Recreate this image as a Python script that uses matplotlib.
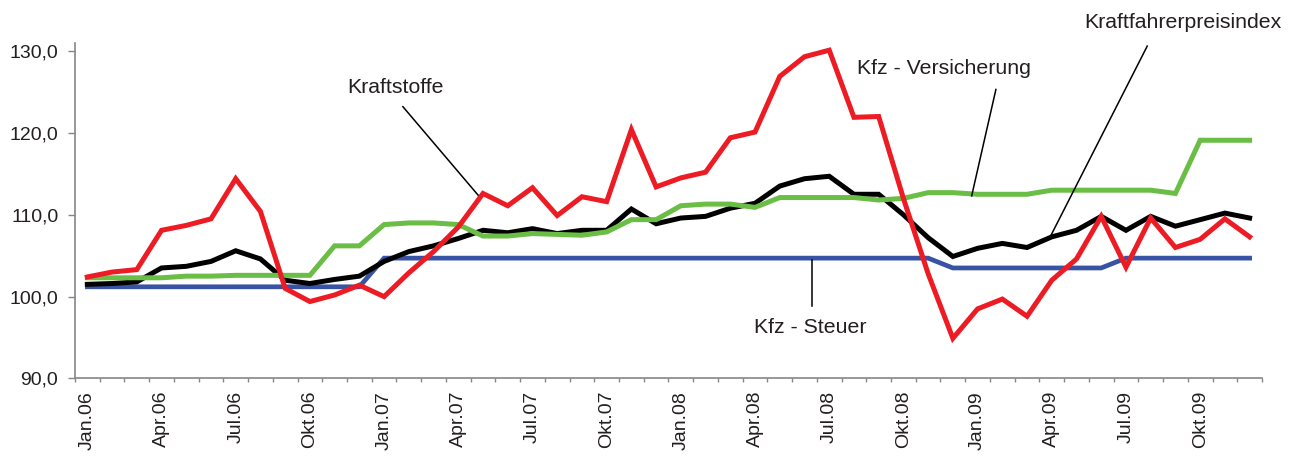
import matplotlib
matplotlib.use("Agg")
import matplotlib.pyplot as plt
import numpy as np

plt.rcParams["font.family"] = ["Liberation Sans", "DejaVu Sans"]

# Monthly index values, Jan.06 - Dez.09
kraftstoffe = [102.4, 103.0, 103.3, 108.1, 108.7, 109.5, 114.4, 110.4, 101.0, 99.4, 100.2, 101.4,
               100.0, 102.9, 105.5, 108.5, 112.6, 111.1, 113.3, 109.9, 112.2, 111.6, 120.4, 113.4,
               114.5, 115.2, 119.4, 120.1, 126.9, 129.3, 130.1, 121.9, 122.0, 112.0, 102.8, 94.9,
               98.5, 99.7, 97.6, 102.0, 104.6, 109.8, 103.6, 109.6, 106.0, 107.0, 109.5, 107.3]
preisindex = [101.5, 101.6, 101.8, 103.5, 103.7, 104.3, 105.6, 104.6, 102.0, 101.6, 102.1, 102.5,
              104.3, 105.5, 106.2, 107.1, 108.1, 107.8, 108.3, 107.7, 108.1, 108.1, 110.7, 108.9,
              109.6, 109.8, 110.8, 111.4, 113.5, 114.4, 114.7, 112.5, 112.5, 110.0, 107.2, 104.9,
              105.9, 106.5, 106.0, 107.3, 108.1, 109.8, 108.1, 109.8, 108.6, 109.4, 110.2, 109.6]
versicherung = [102.3, 102.3, 102.3, 102.3, 102.5, 102.5, 102.6, 102.6, 102.6, 102.6, 106.2, 106.2,
                108.8, 109.0, 109.0, 108.8, 107.4, 107.4, 107.7, 107.6, 107.5, 107.9, 109.4, 109.4,
                111.1, 111.3, 111.3, 110.9, 112.1, 112.1, 112.1, 112.1, 111.8, 112.0, 112.7, 112.7,
                112.5, 112.5, 112.5, 113.0, 113.0, 113.0, 113.0, 113.0, 112.6, 119.1, 119.1, 119.1]
steuer = [101.2] * 12 + [104.7] * 23 + [103.5] * 7 + [104.7] * 6

month_labels = ["Jan.06", "Apr.06", "Jul.06", "Okt.06", "Jan.07", "Apr.07", "Jul.07", "Okt.07",
                "Jan.08", "Apr.08", "Jul.08", "Okt.08", "Jan.09", "Apr.09", "Jul.09", "Okt.09"]
y_ticks = [90, 100, 110, 120, 130]
y_labels = ["90,0", "100,0", "110,0", "120,0", "130,0"]

text_color = "#231F20"
axis_color = "#868686"

fig = plt.figure(figsize=(12.95, 4.57), dpi=100)
ax = fig.add_axes([0.0579, 0.1718, 0.9166, 0.7345])

x = np.arange(len(kraftstoffe))
ax.plot(x, steuer, color="#3953A4", lw=3.4, solid_joinstyle="miter")
ax.plot(x, preisindex, color="#000000", lw=3.6, solid_joinstyle="miter")
ax.plot(x, versicherung, color="#6ABD45", lw=3.6, solid_joinstyle="miter")
ax.plot(x, kraftstoffe, color="#ED1C24", lw=3.6, solid_joinstyle="miter")

ax.set_xlim(-0.5, len(x) - 0.5)
ax.set_ylim(90, 131)

# category axis: ticks between months, labels every quarter
ax.set_xticks(np.arange(0, len(x), 3))
ax.set_xticklabels(month_labels, rotation=90, fontsize=14, color=text_color)
ax.set_xticks(np.arange(-0.5, len(x), 1), minor=True)
ax.tick_params(axis="x", which="major", length=0, pad=9)
ax.tick_params(axis="x", which="minor", length=3, width=1, color=axis_color)

ax.set_yticks(y_ticks)
ax.set_yticklabels(y_labels, fontsize=14, color=text_color)
ax.tick_params(axis="y", length=5, width=1, color=axis_color, pad=7)

for s in ["top", "right"]:
    ax.spines[s].set_visible(False)
for s in ["left", "bottom"]:
    ax.spines[s].set_color(axis_color)
    ax.spines[s].set_linewidth(1.2)

# labels with leader lines
notes = [
    ("Kraftstoffe", (12.45, 125.5), (12.76, 123.2), (15.8, 112.4)),
    ("Kfz - Versicherung", (34.64, 127.9), (36.74, 125.3), (35.76, 112.3)),
    ("Kraftfahrerpreisindex", (44.32, 133.5), (42.86, 130.6), (38.97, 107.5)),
    ("Kfz - Steuer", (29.25, 96.2), (29.29, 98.9), (29.29, 104.5)),
]
for label, pos, start, end in notes:
    ax.text(pos[0], pos[1], label, fontsize=15.3, color=text_color,
            ha="center", va="center", clip_on=False)
    ax.plot([start[0], end[0]], [start[1], end[1]], color="black", lw=1.1,
            clip_on=False)

fig.savefig("out.png", dpi=100)
